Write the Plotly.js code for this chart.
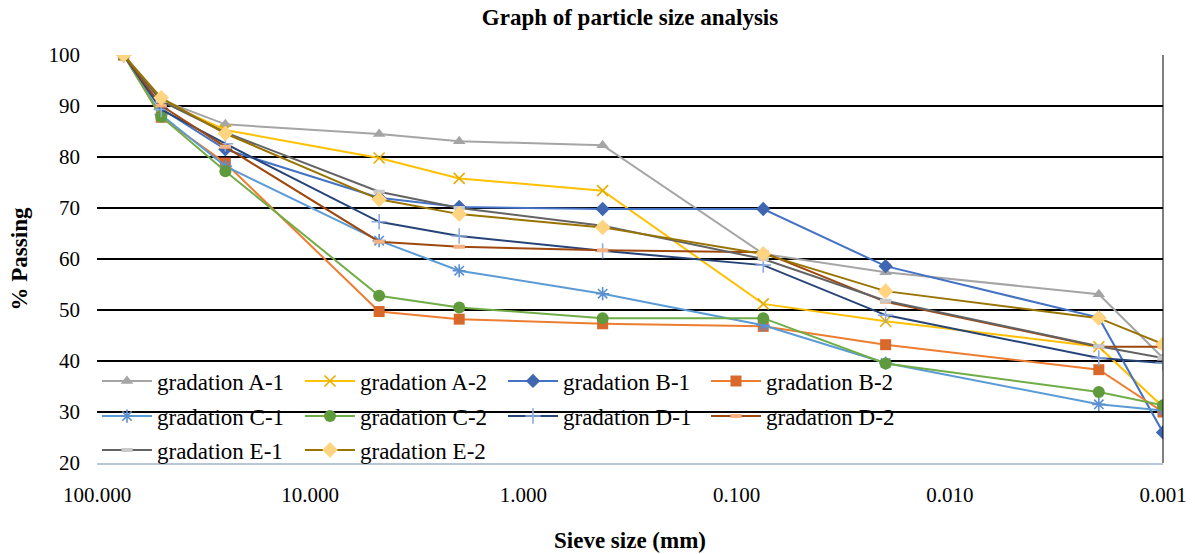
<!DOCTYPE html>
<html>
<head>
<meta charset="utf-8">
<script src="https://cdn.plot.ly/plotly-3.0.1.min.js"></script>
<style>html,body{margin:0;padding:0;background:#fff;}#chart{width:1195px;height:554px;}</style>
</head>
<body>
<div id="chart"></div>
<script>
// Sieve sizes (mm)
const sieveSizes = [75, 50, 25, 4.75, 2, 0.425, 0.075, 0.02, 0.002, 0.001];

// % passing per gradation
const gradA1 = [100, 91.2, 86.4, 84.5, 83.1, 82.3, 61.0, 57.4, 53.1, 40.6];
const gradA2 = [100, 91.0, 85.3, 79.8, 75.8, 73.4, 51.2, 47.8, 42.8, 31.0];
const gradB1 = [100, 89.5, 81.5, 72.0, 70.2, 69.8, 69.8, 58.6, 48.5, 26.0];
const gradB2 = [100, 87.8, 78.8, 49.7, 48.2, 47.3, 46.8, 43.2, 38.3, 30.0];
const gradC1 = [100, 88.3, 78.2, 63.6, 57.7, 53.2, 47.0, 39.6, 31.5, 30.3];
const gradC2 = [100, 87.9, 77.2, 52.8, 50.5, 48.4, 48.4, 39.5, 33.9, 31.3];
const gradD1 = [100, 89.3, 82.6, 67.3, 64.5, 61.6, 58.8, 49.0, 40.6, 39.6];
const gradD2 = [100, 90.1, 82.0, 63.4, 62.4, 61.7, 61.3, 51.6, 42.8, 42.8];
const gradE1 = [100, 91.0, 84.8, 73.2, 70.0, 66.5, 60.0, 51.8, 42.9, 40.6];
const gradE2 = [100, 91.6, 84.6, 71.7, 68.8, 66.2, 61.0, 53.7, 48.4, 43.3];

const seriesNames = ['gradation A-1','gradation A-2','gradation B-1','gradation B-2',
  'gradation C-1','gradation C-2','gradation D-1','gradation D-2','gradation E-1','gradation E-2'];
const seriesValues = [gradA1, gradA2, gradB1, gradB2, gradC1, gradC2, gradD1, gradD2, gradE1, gradE2];

const xTickVals = [100, 10, 1, 0.1, 0.01, 0.001];
const xTickText = ['100.000', '10.000', '1.000', '0.100', '0.010', '0.001'];
const yTickVals = [20, 30, 40, 50, 60, 70, 80, 90, 100];

const styles = [
  {line:'#A5A5A5', marker:{symbol:'triangle-up', size:11, color:'#A5A5A5'}},
  {line:'#FFC000', marker:{symbol:'x-thin-open', size:11, color:'#E6AC00', line:{width:1.6, color:'#E6AC00'}}},
  {line:'#4472C4', marker:{symbol:'diamond', size:11, color:'#3F66B0'}},
  {line:'#ED7D31', marker:{symbol:'square', size:11, color:'#D8692A'}},
  {line:'#5B9BD5', marker:{symbol:'asterisk-open', size:11, color:'#5B8FCF', line:{width:1.6, color:'#5B8FCF'}}},
  {line:'#70AD47', marker:{symbol:'circle', size:12, color:'#5F9A3D'}},
  {line:'#264478', marker:{symbol:'cross-thin-open', size:11, color:'#8FAADC', line:{width:1.6, color:'#8FAADC'}}},
  {line:'#9E480E', marker:{symbol:'line-ew-open', size:8, color:'#F4B183', line:{width:4, color:'#F4B183'}}},
  {line:'#636363', marker:{symbol:'line-ew-open', size:8, color:'#C9C9C9', line:{width:4, color:'#C9C9C9'}}},
  {line:'#997300', marker:{symbol:'diamond', size:12, color:'#FFD480'}}
];
const legendFor = ['legend','legend','legend','legend','legend2','legend2','legend2','legend2','legend3','legend3'];

const traces = seriesNames.map((name, i) => ({
  type: 'scatter',
  mode: 'lines+markers',
  name: name,
  x: sieveSizes,
  y: seriesValues[i],
  line: {color: styles[i].line, width: 2},
  marker: styles[i].marker,
  legend: legendFor[i]
}));

const serif = '"Liberation Serif", "Times New Roman", serif';
const legendBase = {
  orientation: 'h',
  bgcolor: 'rgba(0,0,0,0)',
  font: {family: serif, size: 23, color: '#000'},
  entrywidth: 138,
  entrywidthmode: 'pixels',
  itemwidth: 50,
  x: 0.0,
  xanchor: 'left',
  yanchor: 'middle',
  borderwidth: 0
};

const layout = {
  width: 1195,
  height: 554,
  margin: {l: 97, r: 32, t: 55, b: 91},
  paper_bgcolor: '#fff',
  plot_bgcolor: '#fff',
  font: {family: serif},
  title: {
    text: '<b>Graph of particle size analysis</b>',
    font: {family: serif, size: 23, color: '#000'},
    x: 0.5, xref: 'paper', xanchor: 'center',
    y: 0.969, yref: 'container', yanchor: 'middle'
  },
  xaxis: {
    type: 'log',
    range: [2, -3],
    tickvals: xTickVals,
    ticktext: xTickText,
    showgrid: false,
    zeroline: false,
    showline: true,
    linecolor: '#B9C6D8',
    linewidth: 1.5,
    ticks: '',
    ticklabelstandoff: 12,
    tickfont: {family: serif, size: 21, color: '#000'},
    title: {text: '<b>Sieve size (mm)</b>', font: {family: serif, size: 23, color: '#000'}, standoff: 26}
  },
  yaxis: {
    range: [20, 100],
    tickvals: yTickVals,
    showgrid: true,
    gridcolor: '#000',
    gridwidth: 1.6,
    zeroline: false,
    showline: false,
    ticks: '',
    ticklabelstandoff: 16,
    tickfont: {family: serif, size: 21, color: '#000'},
    title: {text: '<b>% Passing</b>', font: {family: serif, size: 23, color: '#000'}, standoff: 14}
  },
  shapes: [{
    type: 'line', xref: 'paper', yref: 'paper', x0: 1, x1: 1, y0: 0, y1: 1,
    line: {color: '#000', width: 1}
  }],
  legend: Object.assign({}, legendBase, {y: 0.201}),
  legend2: Object.assign({}, legendBase, {y: 0.115}),
  legend3: Object.assign({}, legendBase, {y: 0.032}),
  showlegend: true
};

Plotly.newPlot('chart', traces, layout, {displayModeBar: false, staticPlot: true});
</script>
</body>
</html>
